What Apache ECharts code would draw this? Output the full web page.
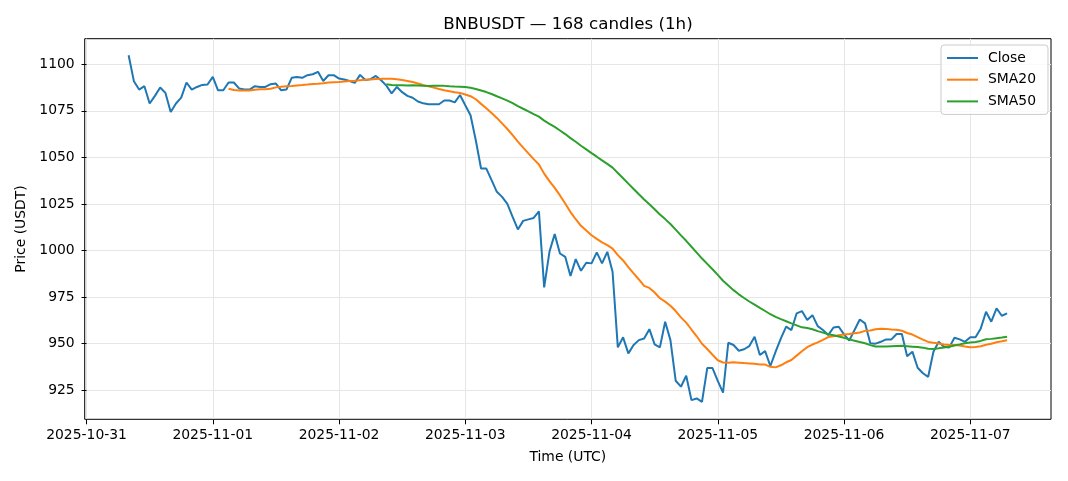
<!DOCTYPE html>
<html>
<head>
<meta charset="utf-8">
<title>BNBUSDT 1h</title>
<script src="https://cdn.jsdelivr.net/npm/echarts@6.0.0/dist/echarts.min.js"></script>
<style>
  html, body { margin: 0; padding: 0; background: #fff; }
  #chart { width: 1068px; height: 481px; }
</style>
</head>
<body>
<div id="chart"></div>
<script>
// first candle is 2025-10-31 08:00 UTC, x is hours since 2025-10-31 00:00
const startHour = 8;

const closes = [
  1104.8, 1090.9, 1086.4, 1088.2, 1078.9, 1083.0, 1087.5, 1084.6, 1074.4, 1078.9,
  1082.1, 1090.2, 1086.4, 1087.8, 1088.9, 1089.1, 1093.2, 1086.0, 1086.0, 1090.2,
  1090.2, 1087.0, 1086.4, 1086.4, 1088.2, 1087.8, 1087.8, 1089.3, 1089.6, 1086.0,
  1086.4, 1092.7, 1093.2, 1092.7, 1094.1, 1094.6, 1095.9, 1091.0, 1094.1, 1094.1,
  1092.3, 1091.8, 1091.0, 1090.0, 1094.3, 1091.5, 1092.0, 1093.7, 1091.4, 1088.5,
  1084.3, 1087.8, 1085.0, 1083.0, 1082.0, 1080.0, 1079.0, 1078.5, 1078.5, 1078.5,
  1080.5, 1080.5, 1079.5, 1083.5, 1078.0, 1072.6, 1059.2, 1044.0, 1044.0, 1037.8,
  1031.5, 1028.8, 1025.0, 1018.0, 1011.3, 1015.9, 1016.7, 1017.5, 1021.0, 980.2,
  999.3, 1008.8, 998.4, 996.6, 986.3, 995.4, 989.1, 993.4, 993.1, 999.0,
  993.1, 999.3, 988.6, 948.0, 953.4, 944.8, 949.3, 951.9, 952.8, 957.8,
  949.6, 948.0, 961.8, 951.9, 930.1, 926.9, 932.8, 919.7, 920.6, 918.8,
  936.9, 936.9, 930.0, 923.7, 950.5, 949.3, 946.2, 947.0, 948.7, 953.7,
  943.9, 946.0, 938.0, 945.7, 952.8, 959.1, 957.3, 966.3, 967.5, 962.7,
  965.3, 959.4, 957.3, 954.6, 958.7, 959.1, 955.0, 951.7, 957.3, 963.0,
  960.9, 950.2, 950.0, 951.0, 952.3, 952.3, 955.2, 955.2, 943.3, 945.7,
  937.1, 934.1, 932.2, 945.7, 951.0, 948.3, 948.0, 953.2, 952.3, 951.0,
  953.5, 953.4, 958.2, 967.1, 961.8, 968.9, 965.0, 966.3
];

const dayTicks = [0, 24, 48, 72, 96, 120, 144, 168];
const dayLabels = ['2025-10-31', '2025-11-01', '2025-11-02', '2025-11-03',
                   '2025-11-04', '2025-11-05', '2025-11-06', '2025-11-07'];
const priceTicks = [925, 950, 975, 1000, 1025, 1050, 1075, 1100];

// simple moving average over the closes
function sma(values, n) {
  const out = [];
  for (let i = n - 1; i < values.length; i++) {
    let s = 0;
    for (let k = i - n + 1; k <= i; k++) s += values[k];
    out.push([startHour + i, s / n]);
  }
  return out;
}

const closeData = closes.map((v, i) => [startHour + i, v]);
const sma20 = sma(closes, 20);
const sma50 = sma(closes, 50);

const FONT = 'DejaVu Sans';
const colors = ['#1f77b4', '#ff7f0e', '#2ca02c'];

const chart = echarts.init(document.getElementById('chart'), null, { renderer: 'canvas' });

const lineSeries = (name, data, color) => ({
  name,
  type: 'line',
  data,
  showSymbol: false,
  symbol: 'none',
  lineStyle: { color, width: 2 },
  itemStyle: { color },
  emphasis: { disabled: true }
});

chart.setOption({
  animation: false,
  backgroundColor: '#fff',
  title: {
    text: 'BNBUSDT — 168 candles (1h)',
    left: 568,
    textAlign: 'center',
    top: 16,
    padding: 0,
    textStyle: { fontFamily: FONT, fontSize: 16.7, fontWeight: 'normal', color: '#000' }
  },
  legend: {
    orient: 'vertical',
    left: 941,
    top: 45,
    padding: [6, 12, 6, 6],
    itemGap: 7.7,
    itemWidth: 31,
    itemHeight: 2,
    icon: 'rect',
    backgroundColor: 'rgba(255,255,255,0.8)',
    borderColor: '#cccccc',
    borderWidth: 1,
    borderRadius: 3,
    textStyle: { fontFamily: FONT, fontSize: 13.9, color: '#000', padding: [0, 0, 0, 5] },
    data: ['Close', 'SMA20', 'SMA50']
  },
  grid: {
    left: 84.7,
    right: 17,
    top: 38.7,
    bottom: 61.7,
    containLabel: false,
    outerBoundsMode: 'none',
    show: true,
    borderColor: '#000',
    borderWidth: 1
  },
  xAxis: {
    type: 'value',
    min: -0.35,
    max: 183.35,
    name: 'Time (UTC)',
    nameLocation: 'middle',
    nameGap: 31,
    nameTextStyle: { fontFamily: FONT, fontSize: 13.9, color: '#000' },
    axisLine: { show: false },
    axisTick: { show: true, customValues: dayTicks, length: 5, lineStyle: { color: '#000', width: 1 } },
    axisLabel: {
      customValues: dayTicks,
      margin: 9,
      fontFamily: FONT,
      fontSize: 13.9,
      color: '#000',
      formatter: v => dayLabels[Math.round(v / 24)]
    },
    splitLine: { show: true, lineStyle: { color: '#e6e6e6', width: 1 } }
  },
  yAxis: {
    type: 'value',
    min: 909.4,
    max: 1113.7,
    name: 'Price (USDT)',
    nameLocation: 'middle',
    nameGap: 51,
    nameTextStyle: { fontFamily: FONT, fontSize: 13.9, color: '#000' },
    axisLine: { show: false },
    axisTick: { show: true, customValues: priceTicks, length: 5, lineStyle: { color: '#000', width: 1 } },
    axisLabel: {
      customValues: priceTicks,
      margin: 10,
      fontFamily: FONT,
      fontSize: 13.9,
      color: '#000',
      formatter: v => String(v)
    },
    splitLine: { show: true, lineStyle: { color: '#e6e6e6', width: 1 } }
  },
  series: [
    lineSeries('Close', closeData, colors[0]),
    lineSeries('SMA20', sma20, colors[1]),
    lineSeries('SMA50', sma50, colors[2])
  ]
});
</script>
</body>
</html>
